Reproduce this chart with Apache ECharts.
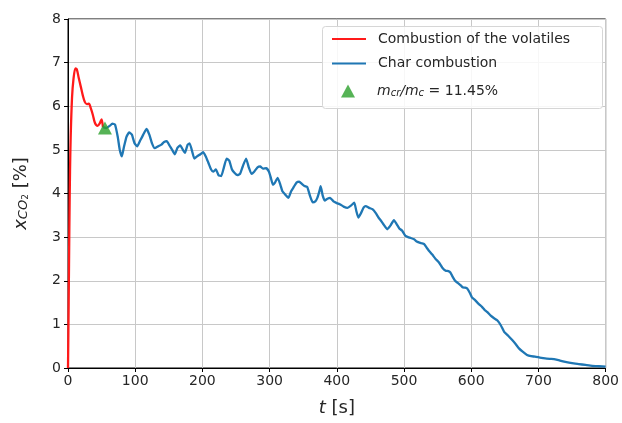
<!DOCTYPE html>
<html>
<head>
<meta charset="utf-8">
<script src="https://cdn.jsdelivr.net/npm/echarts@6/dist/echarts.min.js"></script>
<style>
  html, body { margin: 0; padding: 0; background: #fff; }
  #chart { width: 622px; height: 423px; }
</style>
</head>
<body>
<div id="chart"></div>
<script>
// CO2 mole fraction during a single-particle combustion run
const xTicks = [0, 100, 200, 300, 400, 500, 600, 700, 800];
const yTicks = [0, 1, 2, 3, 4, 5, 6, 7, 8];

// Devolatilisation phase: time [s] and x_CO2 [%]
const volatilesTime = [0, 1, 2, 3, 4, 6, 8, 11, 13, 16, 19, 22, 25, 28, 31, 34, 37, 40, 44, 47, 50, 52];
const volatilesCO2 = [0, 1.5, 3.2, 4.5, 5.3, 6.2, 6.6, 6.87, 6.85, 6.65, 6.45, 6.25, 6.1, 6.05, 6.06, 5.95, 5.8, 5.62, 5.55, 5.6, 5.7, 5.52];

// Char combustion phase
const charTime = [
  52, 57, 62, 66, 70, 74, 77, 80, 83, 87, 91, 95, 99, 103, 107, 112, 117, 121, 125, 129,
  134, 139, 143, 147, 151, 155, 159, 163, 167, 171, 174, 178, 181, 185, 188, 192, 197, 201, 205, 209,
  213, 216, 220, 224, 228, 232, 236, 240, 244, 248, 252, 256, 260, 265, 269, 273, 277, 282, 286, 290,
  295, 299, 302, 305, 308, 312, 316, 319, 323, 328, 332, 336, 340, 344, 348, 352, 356, 360, 364, 368,
  371, 374, 376, 379, 382, 386, 390, 395, 400, 405, 410, 416, 421, 426, 429, 432, 436, 440, 443, 448,
  453, 458, 462, 466, 470, 475, 480, 485, 489, 493, 497, 502, 506, 510, 515, 519, 522, 526, 530, 534,
  537, 542, 547, 552, 557, 562, 566, 569, 572, 576, 580, 584, 587, 591, 594, 598, 601, 606, 611, 616,
  620, 624, 629, 634, 639, 644, 649, 655, 661, 666, 671, 677, 683, 689, 695, 702, 710, 717, 725, 732,
  740, 750, 760, 770, 780, 790, 800
];
const charCO2 = [
  5.52, 5.5, 5.55, 5.6, 5.58, 5.3, 5.0, 4.85, 5.05, 5.3, 5.4, 5.35, 5.15, 5.08, 5.2, 5.35, 5.48, 5.35, 5.15, 5.04,
  5.08, 5.12, 5.18, 5.2, 5.1, 5.0, 4.9, 5.05, 5.1, 5.0, 4.93, 5.12, 5.15, 4.95, 4.8, 4.85, 4.9, 4.95, 4.85, 4.7,
  4.55, 4.5, 4.55, 4.42, 4.4, 4.6, 4.8, 4.75, 4.55, 4.47, 4.42, 4.45, 4.62, 4.8, 4.6, 4.45, 4.5, 4.6, 4.62, 4.57,
  4.58, 4.5, 4.35, 4.2, 4.25, 4.36, 4.2, 4.05, 3.98, 3.9, 4.05, 4.15, 4.25, 4.27, 4.22, 4.17, 4.15, 3.95, 3.8, 3.82,
  3.9, 4.05, 4.17, 3.95, 3.84, 3.88, 3.9, 3.82, 3.78, 3.75, 3.7, 3.67, 3.72, 3.79, 3.6, 3.45, 3.55, 3.68, 3.71, 3.67,
  3.64, 3.55, 3.45, 3.37, 3.28, 3.18, 3.27, 3.39, 3.3, 3.2, 3.15, 3.03, 3.0, 2.98, 2.95, 2.9, 2.88, 2.86, 2.84, 2.75,
  2.69, 2.6, 2.5, 2.42, 2.3, 2.23, 2.22, 2.19, 2.1, 2.0, 1.95, 1.9, 1.85, 1.84, 1.82, 1.72, 1.62, 1.55, 1.47, 1.4,
  1.33, 1.28, 1.2, 1.14, 1.09, 0.98, 0.83, 0.74, 0.64, 0.55, 0.45, 0.37, 0.3, 0.27, 0.26, 0.24, 0.22, 0.21, 0.2, 0.17,
  0.14, 0.11, 0.09, 0.07, 0.05, 0.04, 0.03
];

// Transition point between the two phases
const transitionTime = [55];
const transitionCO2 = [5.5];

const seriesNames = ['Combustion of the volatiles', 'Char combustion', 'transition'];

const pairs = (xs, ys) => xs.map((x, i) => [x, ys[i]]);

const FONT = '"DejaVu Sans", sans-serif';
const TXT = '#262626';

const chart = echarts.init(document.getElementById('chart'), null, { renderer: 'canvas' });

chart.setOption({
  animation: false,
  backgroundColor: '#ffffff',
  grid: {
    left: 68, right: 15, top: 19, bottom: 55,
    show: true, borderColor: '#000', borderWidth: 1, backgroundColor: 'transparent'
  },
  xAxis: {
    type: 'value',
    min: xTicks[0], max: xTicks[xTicks.length - 1], interval: 100,
    name: '{i|t} [s]',
    nameLocation: 'middle',
    nameGap: 31,
    nameTextStyle: {
      fontFamily: FONT, fontSize: 18, color: TXT,
      rich: { i: { fontFamily: FONT, fontSize: 18, fontStyle: 'italic', color: TXT } }
    },
    axisLine: { show: true, onZero: false, lineStyle: { color: '#000', width: 1 } },
    axisTick: { show: true, length: 4, lineStyle: { color: '#000' } },
    axisLabel: { fontFamily: FONT, fontSize: 14, color: TXT, margin: 6 },
    splitLine: { show: true, lineStyle: { color: '#c8c8c8', width: 1 } }
  },
  yAxis: {
    type: 'value',
    min: yTicks[0], max: yTicks[yTicks.length - 1], interval: 1,
    name: '{i|x}{s|CO}{ss|2} [%]',
    nameLocation: 'middle',
    nameRotate: 90,
    nameGap: 38,
    nameTextStyle: {
      fontFamily: FONT, fontSize: 18, color: TXT,
      rich: {
        i: { fontFamily: FONT, fontSize: 18, fontStyle: 'italic', color: TXT },
        s: { fontFamily: FONT, fontSize: 13, fontStyle: 'italic', color: TXT, verticalAlign: 'bottom', lineHeight: 14 },
        ss: { fontFamily: FONT, fontSize: 9, color: TXT, verticalAlign: 'bottom', lineHeight: 10 }
      }
    },
    axisLine: { show: true, onZero: false, lineStyle: { color: '#000', width: 1 } },
    axisTick: { show: true, length: 4, lineStyle: { color: '#000' } },
    axisLabel: { fontFamily: FONT, fontSize: 14, color: TXT, margin: 7 },
    splitLine: { show: true, lineStyle: { color: '#c8c8c8', width: 1 } }
  },
  graphic: [{
    type: 'rect',
    left: 322, top: 26, z: 3,
    shape: { width: 280, height: 82, r: 3 },
    style: { fill: 'rgba(255,255,255,0.85)', stroke: '#d6d6d6', lineWidth: 1 }
  }],
  legend: [{
    data: [seriesNames[0], seriesNames[1]],
    orient: 'vertical',
    left: 327, top: 27,
    z: 5,
    icon: 'rect',
    itemWidth: 34, itemHeight: 2,
    itemGap: 10.5,
    formatter: name => '{sp|}{t|' + name + '}',
    textStyle: {
      fontFamily: FONT, fontSize: 14, color: TXT,
      rich: { sp: { width: 7 }, t: { fontFamily: FONT, fontSize: 14, color: TXT, lineHeight: 16 } }
    }
  }, {
    data: [seriesNames[2]],
    orient: 'vertical',
    left: 336, top: 79,
    z: 5,
    icon: 'triangle',
    itemWidth: 14, itemHeight: 13,
    formatter: () => '{sp|}{i|m}{s|cr}{i|/m}{s|c}{n| = 11.45%}',
    textStyle: {
      fontFamily: FONT, fontSize: 14, color: TXT,
      rich: {
        sp: { width: 17 },
        i: { fontFamily: FONT, fontSize: 14, fontStyle: 'italic', color: TXT },
        s: { fontFamily: FONT, fontSize: 10, fontStyle: 'italic', color: TXT, verticalAlign: 'bottom', lineHeight: 12 },
        n: { fontFamily: FONT, fontSize: 14, color: TXT }
      }
    }
  }],
  series: [{
    name: seriesNames[0],
    type: 'line',
    data: pairs(volatilesTime, volatilesCO2),
    showSymbol: false,
    smooth: 0.3,
    lineStyle: { color: '#ff1a1a', width: 2.3 },
    itemStyle: { color: '#ff1a1a' },
    z: 3
  }, {
    name: seriesNames[1],
    type: 'line',
    data: pairs(charTime, charCO2),
    showSymbol: false,
    smooth: 0.15,
    lineStyle: { color: '#1f77b4', width: 2.3 },
    itemStyle: { color: '#1f77b4' },
    z: 2
  }, {
    name: seriesNames[2],
    type: 'scatter',
    data: pairs(transitionTime, transitionCO2),
    symbol: 'triangle',
    symbolSize: [14, 13],
    itemStyle: { color: '#2ca02c' },
    z: 4
  }]
});
</script>
</body>
</html>
